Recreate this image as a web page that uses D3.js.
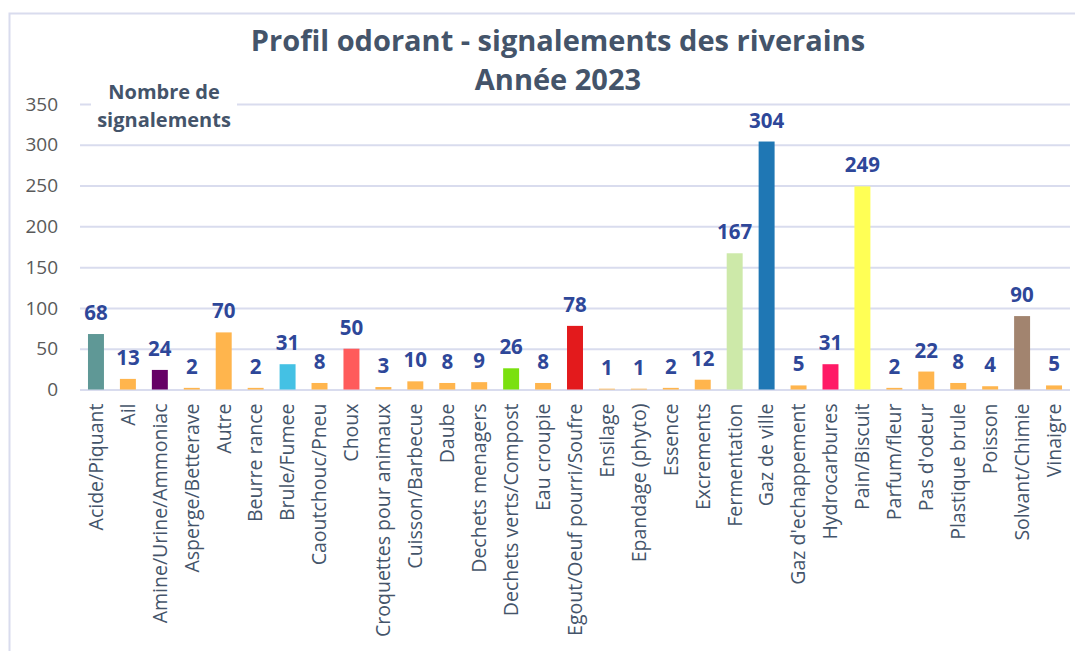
<!DOCTYPE html>
<html><head><meta charset="utf-8">
<script src="https://cdn.jsdelivr.net/npm/d3@7/dist/d3.min.js"></script>
<style>body{margin:0;background:#fff;} svg{display:block;}</style>
</head><body>
<svg id="chart" width="1075" height="651"></svg>
<script>
const categories = ["Acide/Piquant","Ail","Amine/Urine/Ammoniac","Asperge/Betterave","Autre","Beurre rance","Brule/Fumee","Caoutchouc/Pneu","Choux","Croquettes pour animaux","Cuisson/Barbecue","Daube","Dechets menagers","Dechets verts/Compost","Eau croupie","Egout/Oeuf pourri/Soufre","Ensilage","Epandage (phyto)","Essence","Excrements","Fermentation","Gaz de ville","Gaz d'echappement","Hydrocarbures","Pain/Biscuit","Parfum/fleur","Pas d'odeur","Plastique brule","Poisson","Solvant/Chimie","Vinaigre"];
const values = [68,13,24,2,70,2,31,8,50,3,10,8,9,26,8,78,1,1,2,12,167,304,5,31,249,2,22,8,4,90,5];
const barColors = ["#5F9896","#FFB54D","#660066","#FFB54D","#FFB54D","#FFB54D","#44C1E4","#FFB54D","#FF5B5B","#FFB54D","#FFB54D","#FFB54D","#FFB54D","#7AE00F","#FFB54D","#E31A1C","#FFB54D","#FFB54D","#FFB54D","#FFB54D","#CDE9A9","#1F77B4","#FFB54D","#FF1A66","#FFFF55","#FFB54D","#FFB54D","#FFB54D","#FFB54D","#A2846F","#FFB54D"];
const yTicks = [0,50,100,150,200,250,300,350];
const titleLines = ["Profil odorant - signalements des riverains","Année 2023"];
const yAxisTitle = ["Nombre de","signalements"];

const svg = d3.select("#chart");
const font = "'Open Sans', 'Noto Sans', sans-serif";

// frame
svg.append("rect").attr("x",9.5).attr("y",13.5).attr("width",1100).attr("height",700)
  .attr("fill","#fff").attr("stroke","#D9DCEE").attr("stroke-width",2);

const x = d3.scaleBand().domain(categories).range([80,1070]).paddingInner(0.5).paddingOuter(0.25);
const y = d3.scaleLinear().domain([0,350]).range([389.5,104]);

// grid
const grid = svg.append("g").attr("transform","translate(80,0)")
  .call(d3.axisLeft(y).tickValues(yTicks).tickSize(-(1070-80)).tickFormat(""));
grid.select(".domain").remove();
grid.selectAll(".tick line").attr("stroke","#D9DCEE").attr("stroke-width",2);

// y tick labels
const yAxis = svg.append("g").attr("transform","translate(60,0)")
  .call(d3.axisLeft(y).tickValues(yTicks).tickSize(0).tickPadding(2));
yAxis.select(".domain").remove();
yAxis.selectAll("text").attr("font-family",font).attr("font-size",19).attr("fill","#595959");

// y axis title with white background
const ytG = svg.append("g");
ytG.append("rect").attr("x",91).attr("y",78).attr("width",146).attr("height",54).attr("fill","#fff");
const yt = ytG.append("text").attr("text-anchor","middle")
  .attr("font-family",font).attr("font-weight","bold").attr("font-size",20).attr("fill","#44546A");
yt.selectAll("tspan").data(yAxisTitle).join("tspan")
  .attr("x",164).attr("y",(d,i)=>99+i*28).text(d=>d);

// bars
svg.append("g").selectAll("rect").data(categories).join("rect")
  .attr("x",d=>x(d)).attr("width",x.bandwidth())
  .attr("y",(d,i)=>y(values[i])).attr("height",(d,i)=>y(0)-y(values[i]))
  .attr("fill",(d,i)=>barColors[i]);

// value labels
svg.append("g").selectAll("text").data(categories).join("text")
  .attr("x",d=>x(d)+x.bandwidth()/2).attr("y",(d,i)=>y(values[i])-14)
  .attr("text-anchor","middle").attr("font-family",font).attr("font-weight","bold")
  .attr("font-size",20.5).attr("fill","#2E4799").text((d,i)=>values[i]);

// x axis labels
const xAxis = svg.append("g").attr("transform","translate(0,389.5)")
  .call(d3.axisBottom(x).tickSize(0).tickPadding(0));
xAxis.select(".domain").remove();
xAxis.selectAll("text")
  .attr("font-family",font).attr("font-size",19.5).attr("fill","#44546A")
  .attr("text-anchor","end").attr("transform","rotate(-90)")
  .attr("x",-14).attr("y",0).attr("dy","0.35em");

// title
svg.append("g").selectAll("text").data(titleLines).join("text")
  .attr("x",558).attr("y",(d,i)=>50.5+i*39.5).attr("text-anchor","middle")
  .attr("font-family",font).attr("font-weight","bold").attr("font-size",29).attr("fill","#44546A")
  .text(d=>d);
</script>
</body></html>
